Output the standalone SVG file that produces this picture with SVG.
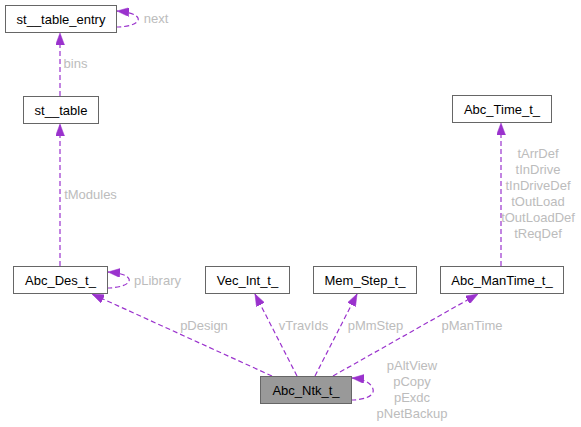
<svg xmlns="http://www.w3.org/2000/svg" width="581" height="427" viewBox="0 0 581 427">
<style>
.node rect{fill:#ffffff;stroke:#666666;stroke-width:1}
.node.cur rect{fill:#999999}
.node text{font-family:"Liberation Sans",Arial,sans-serif;font-size:13px;fill:#000000;text-anchor:middle}
.edge path{fill:none;stroke:#9a32cd;stroke-width:1.2;stroke-dasharray:5,3;marker-end:url(#ah)}
.lbl{font-family:"Liberation Sans",Arial,sans-serif;font-size:13px;fill:#bcbcbc;text-anchor:middle}
</style>
<defs>
<marker id="ah" viewBox="0 0 12 9" refX="12" refY="4.5" markerWidth="12" markerHeight="9" markerUnits="userSpaceOnUse" orient="auto">
<path d="M0,0 L12,4.5 L0,9 z" fill="#9a32cd" stroke="#9a32cd" stroke-width="0.5"/>
</marker>
</defs>
<rect width="581" height="427" fill="#ffffff"/>
<g id="edges">
<g class="edge"><path d="M60,96 L60,33"/><text class="lbl" x="75.5" y="68">bins</text></g>
<g class="edge"><path d="M116,27 C130,27 140,23 138,18 C136,14 128,12 117,11"/><text class="lbl" x="156" y="23">next</text></g>
<g class="edge"><path d="M60,266 L60,124"/><text class="lbl" x="90.5" y="199">tModules</text></g>
<g class="edge"><path d="M107,288 C120,288 131,284 129,279 C127,275 120,273 108,272"/><text class="lbl" x="157.5" y="285">pLibrary</text></g>
<g class="edge"><path d="M501,266 L501,123"/>
<text class="lbl" x="538" y="158">tArrDef</text>
<text class="lbl" x="538" y="174">tInDrive</text>
<text class="lbl" x="538" y="190">tInDriveDef</text>
<text class="lbl" x="538" y="206">tOutLoad</text>
<text class="lbl" x="538" y="222">tOutLoadDef</text>
<text class="lbl" x="538" y="238">tReqDef</text>
</g>
<g class="edge"><path d="M272,376 L92,294"/><text class="lbl" x="204" y="330">pDesign</text></g>
<g class="edge"><path d="M297,376 L255,294"/><text class="lbl" x="303.5" y="330">vTravIds</text></g>
<g class="edge"><path d="M315,376 L357,294"/><text class="lbl" x="375.5" y="330">pMmStep</text></g>
<g class="edge"><path d="M333,376 L478,294"/><text class="lbl" x="472" y="330">pManTime</text></g>
<g class="edge"><path d="M351,400 C364,400 375,396 373,389 C371,383 364,379 352,378"/>
<text class="lbl" x="412" y="370">pAltView</text>
<text class="lbl" x="412" y="386">pCopy</text>
<text class="lbl" x="412" y="402">pExdc</text>
<text class="lbl" x="412" y="418">pNetBackup</text>
</g>
</g>
<g id="st__table_entry" class="node"><rect x="5.5" y="5.5" width="111" height="27"/><text x="61" y="23.5">st__table_entry</text></g>
<g id="st__table" class="node"><rect x="23.5" y="96.5" width="75" height="27"/><text x="61" y="114.5">st__table</text></g>
<g id="Abc_Des_t_" class="node"><rect x="13.5" y="266.5" width="94" height="27"/><text x="60.5" y="284.5">Abc_Des_t_</text></g>
<g id="Vec_Int_t_" class="node"><rect x="205.5" y="266.5" width="84" height="27"/><text x="247.5" y="284.5">Vec_Int_t_</text></g>
<g id="Mem_Step_t_" class="node"><rect x="313.5" y="266.5" width="103" height="27"/><text x="365" y="284.5">Mem_Step_t_</text></g>
<g id="Abc_ManTime_t_" class="node"><rect x="440.5" y="266.5" width="123" height="27"/><text x="502" y="284.5">Abc_ManTime_t_</text></g>
<g id="Abc_Time_t_" class="node"><rect x="452.5" y="95.5" width="99" height="27"/><text x="502" y="113.5">Abc_Time_t_</text></g>
<g id="Abc_Ntk_t_" class="node cur"><rect x="260.5" y="376.5" width="91" height="27"/><text x="306" y="394.5">Abc_Ntk_t_</text></g>
</svg>
